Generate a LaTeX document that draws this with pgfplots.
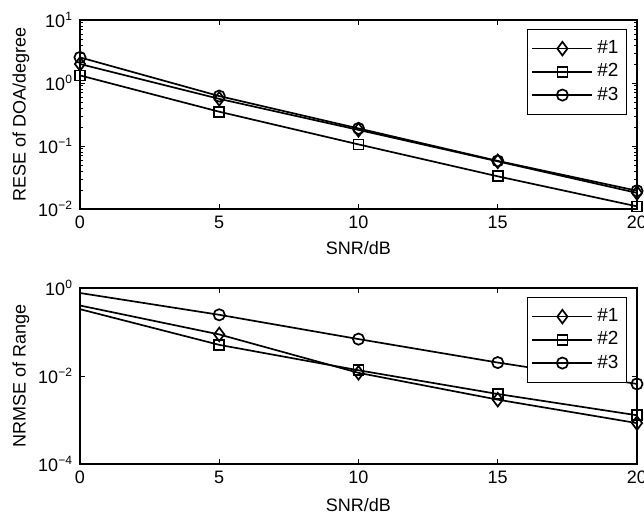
\documentclass[border=0pt]{standalone}
\usepackage{pgfplots}
\pgfplotsset{compat=1.18}
\usepackage{fontspec}
\setmainfont{Liberation Sans}
\pgfplotsset{
  /pgfplots/mystyle/.style={
    scale only axis, width=278.5pt,
    xmin=0, xmax=20,
    xtick={0,5,10,15,20},
    tick align=inside,
    major tick length=2.5pt, minor tick length=1.5pt,
    axis line style={line width=0.6pt},
    every tick/.style={black, line width=0.4pt},
    tick label style={font=\fontsize{9}{10}\selectfont},
    label style={font=\fontsize{9}{10}\selectfont},
    /pgf/number format/assume math mode=true,
    ylabel style={at={(axis description cs:-0.106,0.5)}, anchor=center},
    legend style={at={(axis description cs:1,1)}, anchor=north east, xshift=-5pt, yshift=-4.5pt,
      draw=black, line width=0.6pt, font=\fontsize{9.5}{10}\selectfont,
      row sep=-0.5pt, inner xsep=2pt, inner ysep=3.5pt},
    legend cell align=left,
    legend image code/.code={\draw[line width=0.85pt, mark indices={2}] plot coordinates {(0pt,0pt) (15pt,0pt) (30pt,0pt)};},
    every axis plot/.append style={black, line width=0.85pt, mark options={solid}},
  }
}
\begin{document}
\begin{tikzpicture}
\begin{axis}[ymode=log, mystyle, at={(40pt,152.5pt)}, anchor=south west, height=94.5pt,
  ymin=1e-2, ymax=10,
  ytick={1e-2,1e-1,1,10},
  yticklabels={10\textsuperscript{−2},10\textsuperscript{−1},10\textsuperscript{0},10\textsuperscript{1}},
  xlabel={SNR/dB}, ylabel={RESE of DOA/degree},
  xlabel style={at={(axis description cs:0.5,0)}, yshift=-19.5pt, anchor=center},
]
\addplot[mark=diamond, mark size=3.4pt] coordinates {(0,2.0) (5,0.56) (10,0.18) (15,0.057) (20,0.018)};
\addplot[mark=square, mark size=2.5pt] coordinates {(0,1.32) (5,0.35) (10,0.106) (15,0.033) (20,0.011)};
\addplot[mark=o, mark size=2.8pt] coordinates {(0,2.55) (5,0.62) (10,0.19) (15,0.058) (20,0.0195)};
\legend{\#1,\#2,\#3}
\end{axis}
\begin{axis}[ymode=log, mystyle, at={(40pt,25pt)}, anchor=south west, height=88pt,
  ymin=1e-4, ymax=1,
  ytick={1e-4,1e-2,1}, yminorticks=false,
  yticklabels={10\textsuperscript{−4},10\textsuperscript{−2},10\textsuperscript{0}},
  xlabel={SNR/dB}, ylabel={NRMSE of Range},
  xlabel style={at={(axis description cs:0.5,0)}, yshift=-20.5pt, anchor=center},
]
\addplot[mark=diamond, mark size=3.4pt, mark indices={2,3,4,5}] coordinates {(0,0.40) (5,0.088) (10,0.0118) (15,0.0029) (20,0.00085)};
\addplot[mark=square, mark size=2.5pt, mark indices={2,3,4,5}] coordinates {(0,0.33) (5,0.051) (10,0.0135) (15,0.0039) (20,0.00128)};
\addplot[mark=o, mark size=2.8pt, mark indices={2,3,4,5}] coordinates {(0,0.77) (5,0.246) (10,0.069) (15,0.0202) (20,0.0066)};
\legend{\#1,\#2,\#3}
\end{axis}
\pgfresetboundingbox
\path[use as bounding box] (0pt,0pt) rectangle (322pt,257pt);
\end{tikzpicture}
\end{document}
